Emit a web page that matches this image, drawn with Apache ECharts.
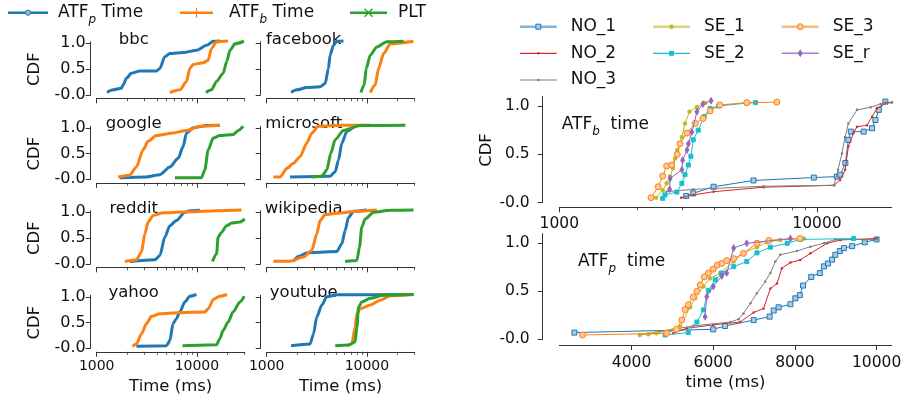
<!DOCTYPE html>
<html>
<head>
<meta charset="utf-8">
<script src="https://cdn.jsdelivr.net/npm/echarts@6/dist/echarts.min.js"></script>
<style>
  html, body { margin: 0; padding: 0; background: #fff; }
  #chart { width: 906px; height: 401px; }
</style>
</head>
<body>
<div id="chart"></div>
<script>
// ---- data: [time (ms), CDF] ----
const sites = ['bbc', 'facebook', 'google', 'microsoft', 'reddit', 'wikipedia', 'yahoo', 'youtube'];

const bbc_atfp = [[1268,0.045],[1457,0.096],[1765,0.128],[1833,0.19],[1979,0.32],[2219,0.42],[2691,0.46],[3955,0.46],[4265,0.51],[4786,0.74],[5370,0.80],[7306,0.82],[9950,0.865],[12500,0.96],[14600,1.04],[16900,1.045]];
const bbc_atfb = [[5370,0.045],[6760,0.096],[7870,0.256],[8500,0.51],[9170,0.59],[11550,0.62],[12940,0.67],[14000,0.9],[15700,1.03],[20500,1.045]];
const bbc_plt = [[12300,0.045],[14000,0.096],[15700,0.26],[18300,0.42],[19800,0.64],[21400,0.865],[24000,0.99],[29500,1.04]];

const facebook_atfp = [[1751,0.045],[1995,0.096],[2512,0.14],[3410,0.154],[3830,0.22],[4130,0.51],[4290,0.77],[4640,0.96],[5010,1.04],[5840,1.045]];
const facebook_atfb = [[10800,0.045],[12100,0.19],[13070,0.51],[14680,0.8],[17100,0.99],[29200,1.04]];
const facebook_plt = [[8710,0.045],[9400,0.19],[9840,0.51],[10800,0.77],[12590,0.93],[15850,1.03],[23300,1.04]];

const google_atfp = [[1700,0.03],[3140,0.046],[4270,0.09],[5370,0.24],[6510,0.41],[7300,0.64],[7870,0.9],[9200,1.0],[12500,1.045],[16950,1.05]];
const google_atfb = [[1635,0.046],[2138,0.08],[2490,0.24],[2900,0.57],[3260,0.74],[3950,0.85],[5800,0.90],[7870,0.95],[10700,1.03],[16950,1.05]];
const google_plt = [[6030,0.03],[11100,0.03],[12000,0.18],[12950,0.57],[14550,0.8],[16950,0.85],[23000,0.87],[25900,0.95],[29000,1.03]];

const microsoft_atfp = [[1710,0.046],[4290,0.06],[4820,0.145],[5210,0.375],[5620,0.70],[6310,0.93],[7940,1.045],[10800,1.05]];
const microsoft_atfb = [[1166,0.046],[1360,0.046],[1585,0.21],[1850,0.31],[2150,0.44],[2510,0.70],[2820,0.90],[3280,1.03],[5410,1.05],[10000,1.05]];
const microsoft_plt = [[2820,0.046],[3550,0.06],[3980,0.18],[4370,0.51],[4820,0.77],[5840,0.95],[8580,1.045],[24200,1.05]];

const reddit_atfp = [[2140,0.045],[3800,0.077],[4270,0.16],[4790,0.52],[5370,0.74],[6250,0.84],[7580,1.0],[8500,1.03],[10700,1.04]];
const reddit_atfb = [[1905,0.045],[2490,0.077],[2800,0.23],[3020,0.58],[3260,0.81],[3660,0.94],[4610,0.99],[8500,1.01],[15700,1.03],[27900,1.045]];
const reddit_plt = [[14300,0.045],[15700,0.19],[16300,0.52],[17600,0.61],[19800,0.74],[22200,0.79],[26900,0.81],[30000,0.87]];

const wikipedia_atfp = [[1850,0.05],[2070,0.14],[2510,0.21],[3410,0.226],[5010,0.24],[5620,0.39],[6060,0.645],[6540,0.90],[7360,1.02],[10000,1.045]];
const wikipedia_atfb = [[1166,0.05],[1710,0.05],[2330,0.13],[2820,0.26],[3160,0.58],[3410,0.84],[3830,0.955],[5010,0.98],[7940,1.02],[12600,1.045]];
const wikipedia_plt = [[6060,0.045],[7940,0.065],[8430,0.32],[8890,0.71],[9600,0.87],[11660,1.0],[17100,1.04],[29200,1.045]];

const yahoo_atfp = [[2490,0.04],[4970,0.05],[5370,0.15],[5790,0.48],[6250,0.575],[6750,0.705],[7580,0.90],[8500,1.01],[9900,1.045]];
const yahoo_atfb = [[2270,0.04],[2490,0.085],[2800,0.28],[3140,0.48],[3520,0.62],[4270,0.67],[6250,0.69],[12000,0.706],[13000,0.77],[14600,0.95],[16900,1.01],[20000,1.045]];
const yahoo_plt = [[7190,0.05],[15700,0.07],[16900,0.18],[18300,0.35],[20500,0.51],[23000,0.71],[26900,0.90],[29700,1.01]];

const youtube_atfp = [[1750,0.05],[2710,0.085],[2930,0.28],[3160,0.61],[3550,0.84],[3980,1.0],[5010,1.04],[29200,1.045]];
const youtube_atfb = [[6310,0.05],[7080,0.085],[7620,0.41],[7940,0.67],[8580,0.77],[10800,0.84],[13600,0.935],[17100,1.02],[29200,1.045]];
const youtube_plt = [[4830,0.05],[6540,0.065],[7620,0.12],[7940,0.41],[8250,0.80],[8890,0.90],[10800,0.97],[14700,1.03],[29200,1.045]];

// right panels, one array per configuration
const configs = ['NO_1', 'NO_2', 'NO_3', 'SE_1', 'SE_2', 'SE_3', 'SE_r'];

const atfb_NO_1 = [[3110,0.069],[3310,0.097],[3970,0.165],[5670,0.23],[9720,0.26],[11940,0.27],[12320,0.29],[12890,0.41],[13240,0.65],[13530,0.735],[15180,0.735],[16360,0.77],[16860,0.855],[17370,0.96],[18430,1.045]];
const atfb_NO_2 = [[2970,0.052],[3310,0.08],[3970,0.114],[6200,0.16],[11650,0.18],[12300,0.234],[12860,0.34],[13240,0.58],[13860,0.72],[14300,0.786],[15640,0.80],[16360,0.89],[17110,0.976],[18430,1.03],[19530,1.04]];
const atfb_NO_3 = [[2500,0.045],[2610,0.114],[3310,0.138],[6200,0.17],[11650,0.18],[12070,0.34],[12500,0.51],[12860,0.68],[13240,0.82],[14300,0.96],[16130,0.986],[17640,1.02],[19530,1.035]];
const atfb_SE_1 = [[2375,0.052],[2520,0.13],[2610,0.2],[2690,0.27],[2760,0.355],[2815,0.46],[2870,0.545],[2930,0.61],[2990,0.68],[3075,0.82],[3200,0.94],[3420,0.99],[3680,1.03]];
const atfb_SE_2 = [[2520,0.045],[2570,0.08],[2860,0.11],[2990,0.2],[3075,0.29],[3170,0.39],[3240,0.48],[3310,0.65],[3460,0.75],[3650,0.89],[3850,0.975],[4150,1.0],[5340,1.03],[5770,1.035]];
const atfb_SE_3 = [[2270,0.052],[2420,0.165],[2520,0.275],[2610,0.38],[2730,0.39],[2870,0.5],[2940,0.61],[3130,0.72],[3370,0.82],[3610,0.87],[3850,0.95],[4200,1.01],[5340,1.035],[6990,1.04]];
const atfb_SE_r = [[2680,0.14],[2690,0.25],[2990,0.34],[3010,0.44],[3130,0.545],[3170,0.61],[3270,0.73],[3420,0.94],[3610,1.02],[3880,1.055]];

const atfp_NO_1 = [[2600,0.07],[6000,0.104],[6290,0.139],[6990,0.2],[7380,0.236],[7480,0.3],[7600,0.333],[7890,0.365],[8010,0.427],[8120,0.46],[8200,0.56],[8400,0.65],[8610,0.69],[8710,0.76],[8810,0.79],[8910,0.83],[8990,0.88],[9100,0.92],[9200,0.95],[9400,0.97],[9710,1.01],[10000,1.04]];
const atfp_NO_2 = [[5020,0.0625],[5350,0.115],[6000,0.15],[6660,0.18],[6990,0.28],[7230,0.32],[7400,0.53],[7560,0.58],[7680,0.74],[7890,0.8],[8130,0.826],[8380,0.896],[8790,1.0],[9120,1.035],[10000,1.05]];
const atfp_NO_3 = [[4200,0.045],[5510,0.14],[6420,0.18],[6620,0.21],[6740,0.27],[6910,0.375],[7070,0.48],[7270,0.6],[7400,0.69],[7520,0.81],[7640,0.88],[8050,0.92],[8380,0.965],[8710,1.0],[8990,1.04],[10000,1.04]];
const atfp_SE_1 = [[4200,0.045],[4410,0.052],[4610,0.0625],[5190,0.13],[5430,0.333],[5560,0.43],[5760,0.55],[5920,0.635],[6170,0.69],[6500,0.81],[6740,0.9],[7070,0.96],[7320,1.01],[7640,1.035],[8220,1.05]];
const atfp_SE_2 = [[4820,0.045],[5390,0.07],[5600,0.18],[5760,0.306],[5880,0.51],[6050,0.62],[6210,0.69],[6500,0.757],[6820,0.81],[7070,0.9],[7400,0.96],[7810,1.0],[8130,1.04],[9440,1.05]];
const atfp_SE_3 = [[2800,0.045],[4860,0.0625],[5100,0.104],[5230,0.2],[5310,0.31],[5390,0.36],[5510,0.44],[5600,0.5],[5680,0.566],[5780,0.65],[5880,0.69],[6000,0.73],[6100,0.774],[6210,0.79],[6330,0.82],[6500,0.84],[6740,0.895],[7070,1.0],[7360,1.03],[8120,1.05]];
const atfp_SE_r = [[5800,0.236],[5840,0.444],[6000,0.55],[6210,0.66],[6330,0.69],[6500,0.95],[6820,1.0],[7890,1.05]];

// ticks
const yTicks = [0, 0.5, 1.0];
const logMajor = [1000, 10000];
const logMinorLeft = [2000, 3000, 4000, 5000, 6000, 7000, 8000, 9000, 20000, 30000];
const logMinorRight = [2000, 3000, 4000, 5000, 6000, 7000, 8000, 9000];
const linTicks = [4000, 6000, 8000, 10000];

// ---- built from the arrays above ----
const siteSeries = {
  bbc: [bbc_atfp, bbc_atfb, bbc_plt],
  facebook: [facebook_atfp, facebook_atfb, facebook_plt],
  google: [google_atfp, google_atfb, google_plt],
  microsoft: [microsoft_atfp, microsoft_atfb, microsoft_plt],
  reddit: [reddit_atfp, reddit_atfb, reddit_plt],
  wikipedia: [wikipedia_atfp, wikipedia_atfb, wikipedia_plt],
  yahoo: [yahoo_atfp, yahoo_atfb, yahoo_plt],
  youtube: [youtube_atfp, youtube_atfb, youtube_plt]
};
const atfbByConfig = [atfb_NO_1, atfb_NO_2, atfb_NO_3, atfb_SE_1, atfb_SE_2, atfb_SE_3, atfb_SE_r];
const atfpByConfig = [atfp_NO_1, atfp_NO_2, atfp_NO_3, atfp_SE_1, atfp_SE_2, atfp_SE_3, atfp_SE_r];

const FONT = 'DejaVu Sans';
const AX = '#333';
const TXT = '#111';
const leftColors = ['#1f77b4', '#ff7f0e', '#2ca02c'];
const leftNames = ['ATF_p Time', 'ATF_b Time', 'PLT'];

// style of each configuration (colour, marker)
const cfgStyle = {
  NO_1: { color: '#1f77b4', symbol: 'rect', size: 5, fill: '#a9cbe6' },
  NO_2: { color: '#d62728', symbol: 'circle', size: 2.5, fill: '#d62728' },
  NO_3: { color: '#7f7f7f', symbol: 'circle', size: 2.5, fill: '#7f7f7f' },
  SE_1: { color: '#bcbd22', symbol: 'circle', size: 4.5, fill: '#bcbd22' },
  SE_2: { color: '#17becf', symbol: 'rect', size: 4, fill: '#17becf' },
  SE_3: { color: '#ff7f0e', symbol: 'circle', size: 6, fill: '#ffc799' },
  SE_r: { color: '#9467bd', symbol: 'diamond', size: [5, 8], fill: '#9467bd' }
};

const grids = [], xAxes = [], yAxes = [], series = [], graphics = [];

const fmtY = v => (v === 0 ? '-0.0' : v.toFixed(1));

function addGrid(left, width, y1, unit, ymax) {
  grids.push({
    left: left, width: width,
    top: y1 - (ymax - 1) * unit, height: ymax * unit,
    containLabel: false, outerBoundsMode: 'none'
  });
  return grids.length - 1;
}

function addY(g, ymax, offset, showLabel, fs, margin) {
  yAxes.push({
    type: 'value', gridIndex: g, position: 'left', min: 0, max: ymax, offset: offset,
    axisLine: { show: true, onZero: false, lineStyle: { color: AX, width: 1 } },
    axisTick: { show: true, length: 5, customValues: yTicks, lineStyle: { color: AX } },
    axisLabel: { show: showLabel, customValues: yTicks, formatter: fmtY, fontSize: fs, fontFamily: FONT, color: TXT, margin: margin },
    splitLine: { show: false }
  });
  return yAxes.length - 1;
}

// log data axis (hidden) + two companion axes in log10 units for major/minor ticks
function addLogX(g, xmin, xmax, minor, offset, showLabel, fs, margin) {
  const dataIdx = xAxes.length;
  xAxes.push({ type: 'log', logBase: 10, gridIndex: g, position: 'bottom', min: xmin, max: xmax, show: false });
  const lmin = Math.log10(xmin), lmax = Math.log10(xmax);
  xAxes.push({
    type: 'value', gridIndex: g, position: 'bottom', min: lmin, max: lmax, offset: offset,
    axisLine: { show: true, onZero: false, lineStyle: { color: AX, width: 1 } },
    axisTick: { show: true, length: 5, customValues: logMajor.map(Math.log10), lineStyle: { color: AX } },
    axisLabel: {
      show: showLabel, customValues: logMajor.map(Math.log10), fontSize: fs, fontFamily: FONT, color: TXT, margin: margin,
      formatter: v => String(Math.round(Math.pow(10, v)))
    },
    splitLine: { show: false }
  });
  xAxes.push({
    type: 'value', gridIndex: g, position: 'bottom', min: lmin, max: lmax, offset: offset,
    axisLine: { show: false, onZero: false },
    axisTick: { show: true, length: 3, customValues: minor.map(Math.log10), lineStyle: { color: AX, width: 0.8 } },
    axisLabel: { show: false },
    splitLine: { show: false }
  });
  return dataIdx;
}

function text(x, y, str, fs, opts) {
  graphics.push(Object.assign({
    type: 'text', x: x, y: y, silent: true,
    style: Object.assign({ text: str, fontSize: fs, fontFamily: FONT, fill: TXT, align: 'left', verticalAlign: 'middle' }, (opts && opts.style) || {})
  }, opts && opts.rotation ? { rotation: opts.rotation } : {}));
}

// ---- left: 4 x 2 small multiples ----
const colLeft = [96.7, 266.7];
const colW = 148;
const rowY1 = [43.3, 127.8, 212.3, 296.8];
const rowUnit = 51.5;
const leftYmax = 1.03;

sites.forEach((site, i) => {
  const row = Math.floor(i / 2), col = i % 2;
  const g = addGrid(colLeft[col], colW, rowY1[row], rowUnit, leftYmax);
  const yi = addY(g, leftYmax, 6, col === 0, 16, 5);
  const xi = addLogX(g, 1000, 30000, logMinorLeft, 3.5, row === 3, 14, 8);
  siteSeries[site].forEach((d, k) => {
    series.push({
      type: 'line', name: leftNames[k], xAxisIndex: xi, yAxisIndex: yi, data: d,
      showSymbol: false, symbol: 'none', smooth: 0.25, smoothMonotone: 'x', clip: false, silent: true,
      lineStyle: { color: leftColors[k], width: 3 }, itemStyle: { color: leftColors[k] }, z: 3 + k
    });
  });
  // panel title
  text(colLeft[col] + 37, rowY1[row] - 4, site, 16.5, { style: { align: 'center' } });
  if (col === 0) {
    text(35, rowY1[row] + rowUnit / 2, 'CDF', 16.5, { rotation: Math.PI / 2, style: { align: 'center' } });
  }
});
text(colLeft[0] + colW / 2, 386.7, 'Time (ms)', 16.5, { style: { align: 'center' } });
text(colLeft[1] + colW / 2, 386.7, 'Time (ms)', 16.5, { style: { align: 'center' } });

// ---- right: ATF_b (log) and ATF_p (linear) ----
const rLeft = 559.3, rW = 332.4;
const gTop = addGrid(rLeft, rW, 106, 96.7, 1.1);
const yTop = addY(gTop, 1.1, 16.6, true, 15.5, 13);
const xTop = addLogX(gTop, 1000, 19500, logMinorRight, 4.6, true, 15.5, 9);

const gBot = addGrid(rLeft, rW, 243.3, 96, 1.1);
const yBot = addY(gBot, 1.1, 16.6, true, 15.5, 13);
const xBot = xAxes.length;
xAxes.push({
  type: 'value', gridIndex: gBot, position: 'bottom', min: 2230, max: 10370, offset: 5.7,
  axisLine: { show: true, onZero: false, lineStyle: { color: AX, width: 1 } },
  axisTick: { show: true, length: 5, customValues: linTicks, lineStyle: { color: AX } },
  axisLabel: { show: true, customValues: linTicks, formatter: v => String(v), fontSize: 15.5, fontFamily: FONT, color: TXT, margin: 10 },
  splitLine: { show: false }
});

configs.forEach((c, k) => {
  const st = cfgStyle[c];
  [[xTop, yTop, atfbByConfig[k]], [xBot, yBot, atfpByConfig[k]]].forEach(([xi, yi, d]) => {
    series.push({
      type: 'line', name: c, xAxisIndex: xi, yAxisIndex: yi, data: d,
      symbol: st.symbol, symbolSize: st.size, showSymbol: true, clip: false, silent: true,
      lineStyle: { color: st.color, width: 1 },
      itemStyle: { color: st.fill, borderColor: st.color, borderWidth: st.symbol === 'rect' || c === 'SE_3' ? 1 : 0 },
      z: 3 + k
    });
  });
});

const richLbl = () => ({
  a: { fontSize: 17, fontFamily: FONT, fill: TXT, lineHeight: 20, verticalAlign: 'middle' },
  s: { fontSize: 12, fontFamily: FONT, fontStyle: 'italic', fill: TXT, lineHeight: 26, verticalAlign: 'bottom' }
});

function atfText(x, y, sub, tail) {
  graphics.push({
    type: 'text', x: x, y: y, silent: true,
    style: {
      text: '{a|ATF}{s|' + sub + '}{a|' + tail + '}',
      rich: richLbl(), align: 'left', verticalAlign: 'middle', fontFamily: FONT
    }
  });
}

atfText(561.7, 125, 'b', '  time');
atfText(578, 261.7, 'p', '  time');
text(487, 150, 'CDF', 16.5, { rotation: Math.PI / 2, style: { align: 'center' } });
text(725.5, 383, 'time (ms)', 16.5, { style: { align: 'center' } });

// ---- legends ----
function lline(x1, x2, y, color, w, op) {
  graphics.push({ type: 'line', silent: true, shape: { x1: x1, y1: y, x2: x2, y2: y }, style: { stroke: color, lineWidth: w, opacity: op == null ? 1 : op } });
}
// left legend
const lgY = 12.7;
lline(8, 48, lgY, leftColors[0], 2.5);
graphics.push({ type: 'circle', silent: true, shape: { cx: 28, cy: lgY, r: 2.6 }, style: { fill: '#8fbbd9', stroke: leftColors[0], lineWidth: 1 } });
atfText(58, lgY, 'p', ' Time');
lline(180, 213, lgY, leftColors[1], 2.5);
graphics.push({ type: 'line', silent: true, shape: { x1: 196.5, y1: lgY - 5, x2: 196.5, y2: lgY + 5 }, style: { stroke: leftColors[1], lineWidth: 1.2 } });
atfText(229, lgY, 'b', ' Time');
lline(350, 387, lgY, leftColors[2], 2.5);
graphics.push({ type: 'line', silent: true, shape: { x1: 364.5, y1: lgY - 4, x2: 372.5, y2: lgY + 4 }, style: { stroke: leftColors[2], lineWidth: 1.4 } });
graphics.push({ type: 'line', silent: true, shape: { x1: 364.5, y1: lgY + 4, x2: 372.5, y2: lgY - 4 }, style: { stroke: leftColors[2], lineWidth: 1.4 } });
text(398, lgY, 'PLT', 17);

// right legend
const rlCols = [[520, 556.7, 570.7], [653, 690, 704], [781.7, 818.7, 832.7]];
const rlRows = [26.7, 53.3, 80];
const rlPlace = { NO_1: [0, 0], NO_2: [0, 1], NO_3: [0, 2], SE_1: [1, 0], SE_2: [1, 1], SE_3: [2, 0], SE_r: [2, 1] };
const rlLine = { NO_1: [2.4, 0.55], NO_2: [1.2, 1], NO_3: [1.2, 1], SE_1: [2.4, 0.6], SE_2: [1.2, 1], SE_3: [2.4, 0.55], SE_r: [1.5, 0.85] };
configs.forEach(c => {
  const [ci, ri] = rlPlace[c];
  const [x1, x2, tx] = rlCols[ci];
  const y = rlRows[ri];
  const st = cfgStyle[c];
  const mx = (x1 + x2) / 2;
  lline(x1, x2, y, st.color, rlLine[c][0], rlLine[c][1]);
  if (st.symbol === 'rect') {
    const s = st.size;
    graphics.push({ type: 'rect', silent: true, shape: { x: mx - s / 2, y: y - s / 2, width: s, height: s }, style: { fill: st.fill, stroke: st.color, lineWidth: 1 } });
  } else if (st.symbol === 'diamond') {
    graphics.push({ type: 'polygon', silent: true, shape: { points: [[mx, y - 4], [mx + 2.5, y], [mx, y + 4], [mx - 2.5, y]] }, style: { fill: st.fill } });
  } else {
    graphics.push({ type: 'circle', silent: true, shape: { cx: mx, cy: y, r: st.size / 2 }, style: { fill: st.fill, stroke: st.color, lineWidth: c === 'SE_3' ? 1 : 0 } });
  }
  text(tx, y, c, 17);
});

const chart = echarts.init(document.getElementById('chart'), null, { renderer: 'canvas' });
chart.setOption({
  animation: false,
  backgroundColor: '#fff',
  grid: grids,
  xAxis: xAxes,
  yAxis: yAxes,
  series: series,
  graphic: graphics
});
</script>
</body>
</html>
